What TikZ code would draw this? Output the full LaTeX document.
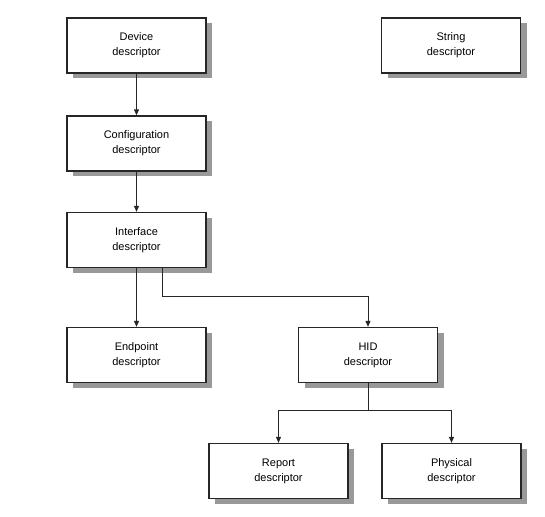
\documentclass[tikz,border=0pt]{standalone}
\usepackage{fontspec}
\setmainfont{Liberation Sans}
\usetikzlibrary{arrows.meta,shadows}
\begin{document}
\begin{tikzpicture}[x=1pt,y=-1pt,
  desc/.style={draw=black!85, line width=1.3pt, fill=white, minimum width=139pt, minimum height=55pt,
    align=center, font=\fontsize{11}{15}\selectfont, inner sep=0pt,
    drop shadow={shadow xshift=6pt, shadow yshift=-5pt, fill=black!40, opacity=1}},
  conn/.style={draw=black!85, line width=0.9pt},
  arr/.style={conn, -{Triangle[length=6pt,width=5pt]}}]
\useasboundingbox (0,0) rectangle (545,516);
\fill[white] (0,0) rectangle (545,516);
\node[desc] (dev) at (136.5,45.5) {Device\\descriptor};
\node[desc] (str) at (451,45.5) {String\\descriptor};
\node[desc] (cfg) at (136.5,143.5) {Configuration\\descriptor};
\node[desc] (ifc) at (136.5,240) {Interface\\descriptor};
\node[desc] (ep) at (136.5,355) {Endpoint\\descriptor};
\node[desc] (hid) at (368,355) {HID\\descriptor};
\node[desc] (rep) at (278.5,471) {Report\\descriptor};
\node[desc] (phy) at (451.5,471) {Physical\\descriptor};
\draw[arr] (dev.south) -- (cfg.north);
\draw[arr] (cfg.south) -- (ifc.north);
\draw[arr] (ifc.south) -- (ep.north);
\coordinate (ifcb) at (162,268);
\coordinate (hj) at (368,410);
\draw[arr] (ifcb) -- (162,296) -| (hid.north);
\draw[conn] (hid.south) -- (hj);
\draw[arr] (hj) -| (rep.north);
\draw[arr] (hj) -| (phy.north);
\end{tikzpicture}
\end{document}
